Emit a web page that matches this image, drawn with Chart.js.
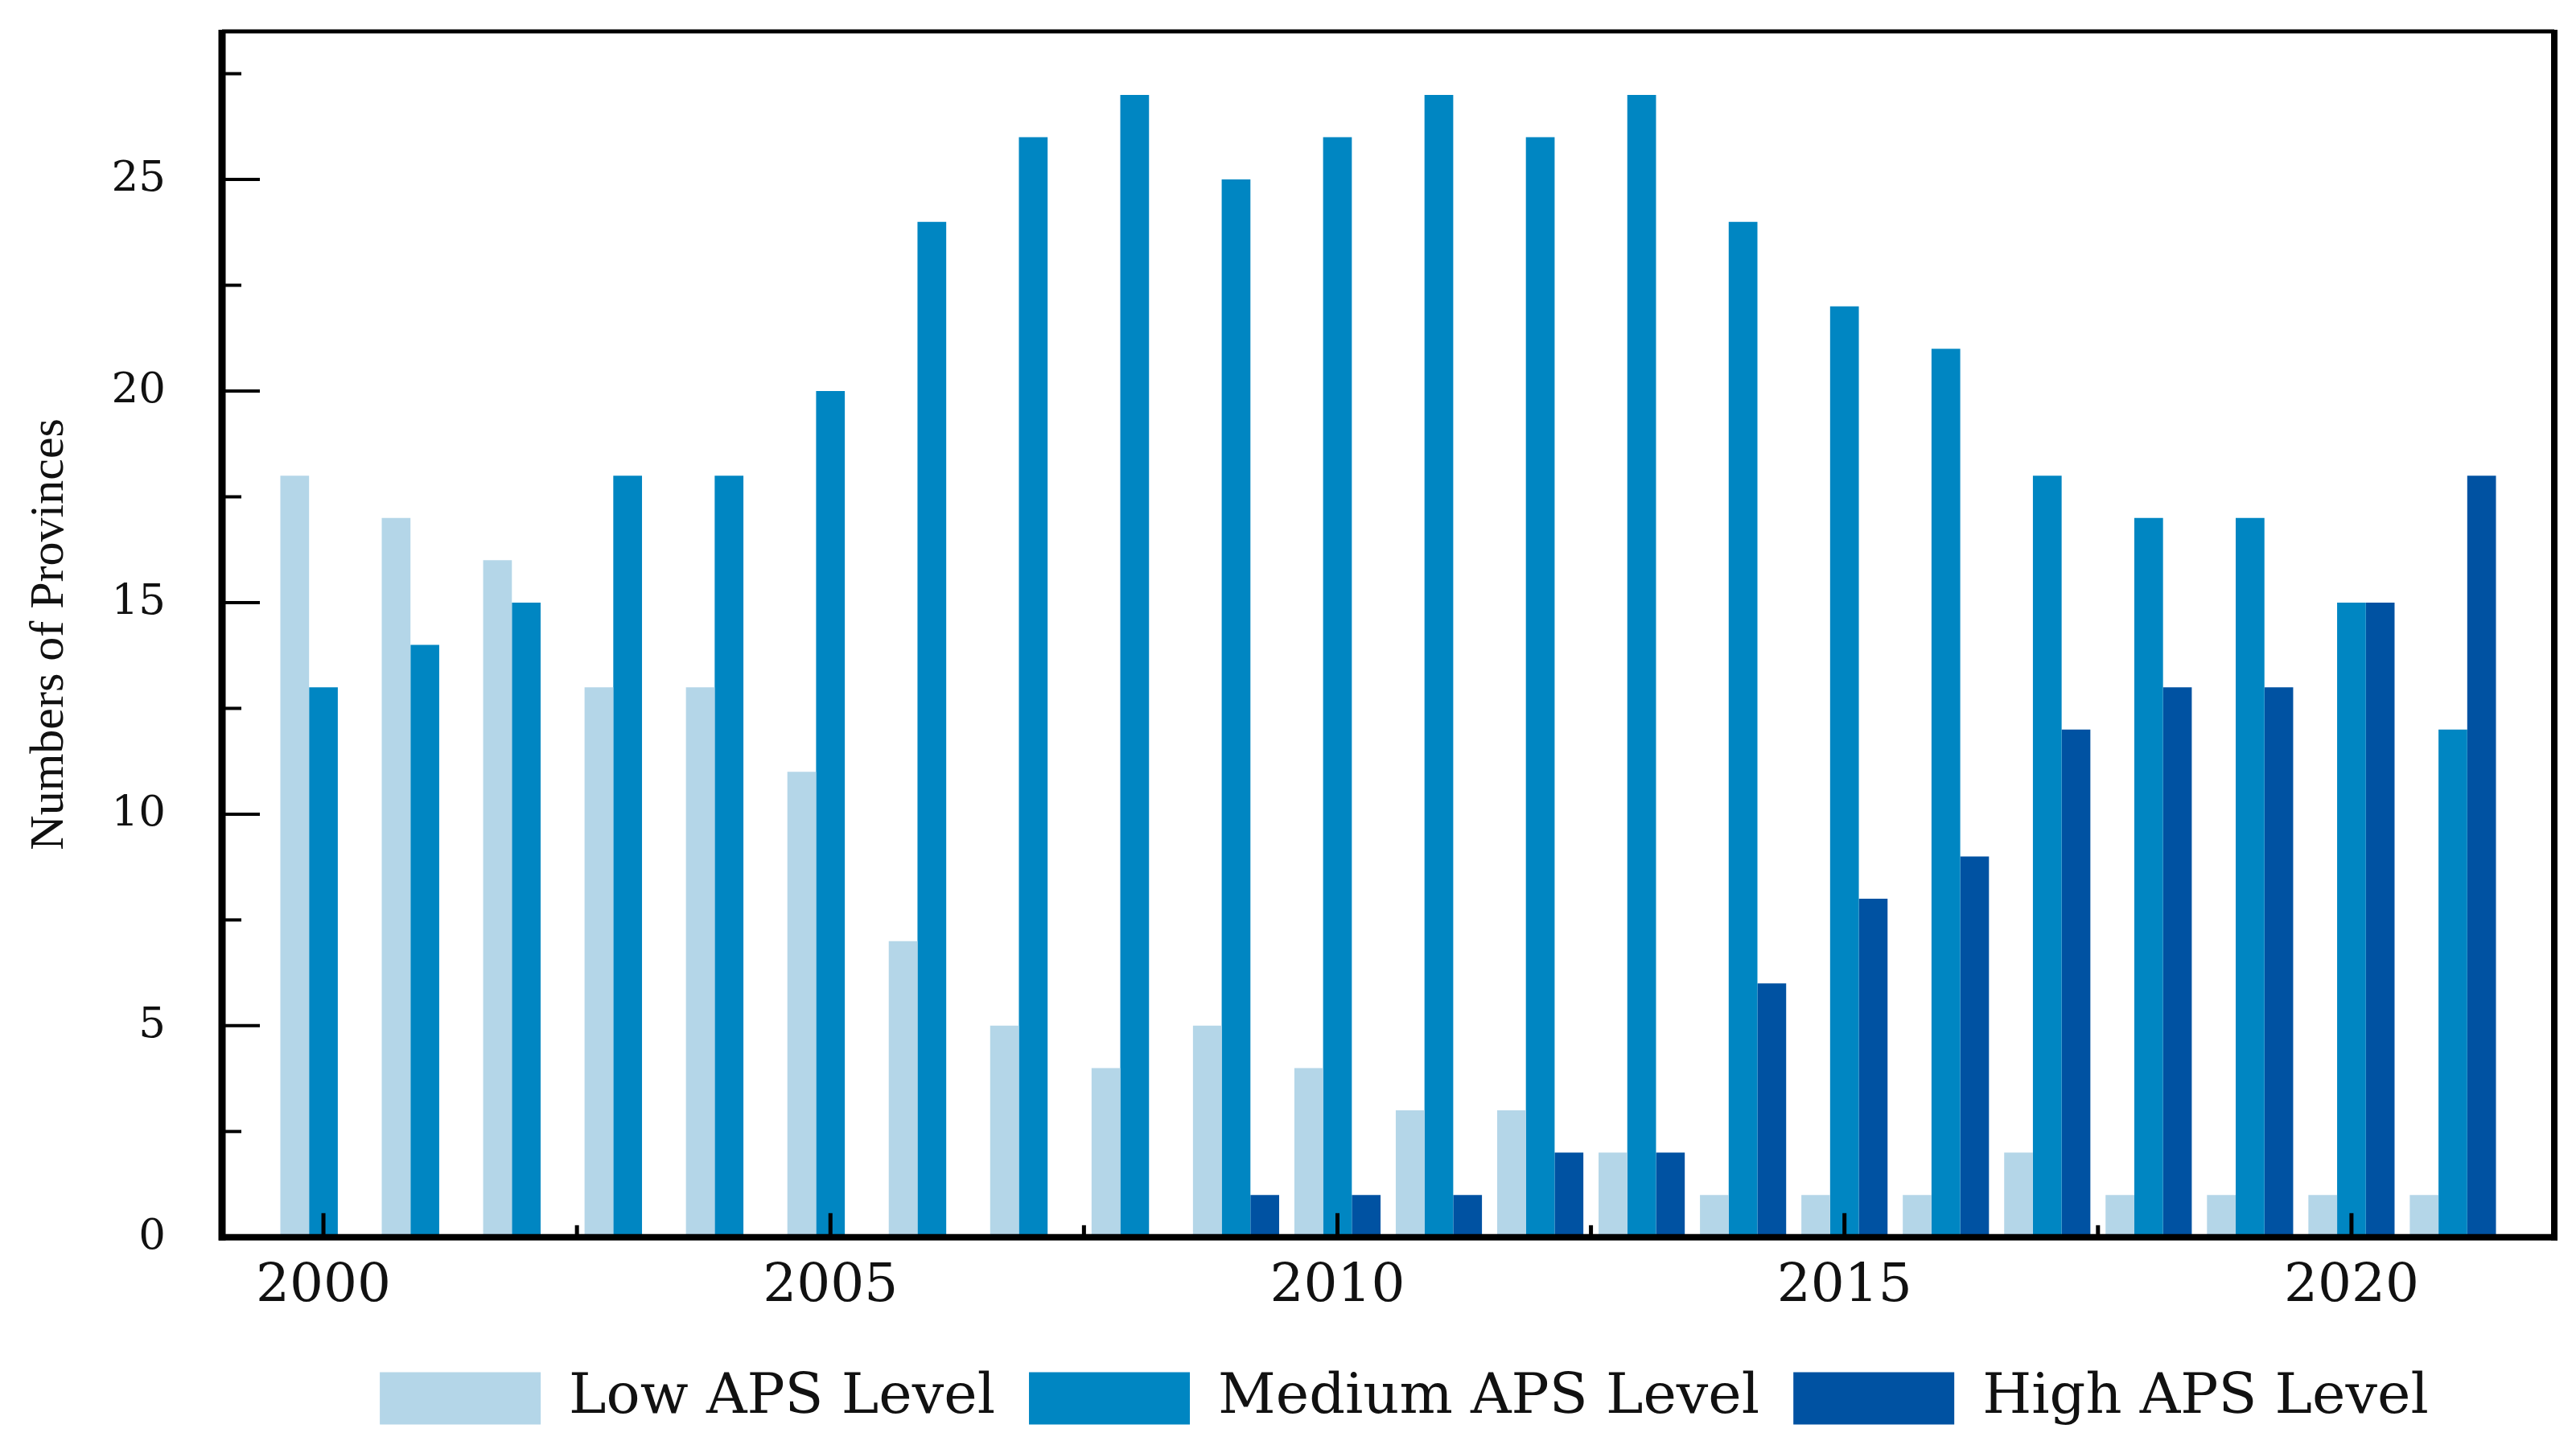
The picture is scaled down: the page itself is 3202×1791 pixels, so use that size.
<!DOCTYPE html>
<html>
<head>
<meta charset="utf-8">
<title>APS levels by year</title>
<script src="https://cdn.jsdelivr.net/npm/chart.js@4"></script>
<style>
  html, body { margin: 0; padding: 0; background: #fff; }
  #wrap { width: 3202px; height: 1791px; position: relative; }
</style>
</head>
<body>
<div id="wrap"><canvas id="chart"></canvas></div>
<script>
// ---------- Data ----------
const years  = [2000, 2001, 2002, 2003, 2004, 2005, 2006, 2007, 2008, 2009, 2010,
                2011, 2012, 2013, 2014, 2015, 2016, 2017, 2018, 2019, 2020, 2021];
const lowAPS    = [18, 17, 16, 13, 13, 11, 7, 5, 4, 5, 4, 3, 3, 2, 1, 1, 1, 2, 1, 1, 1, 1];
const mediumAPS = [13, 14, 15, 18, 18, 20, 24, 26, 27, 25, 26, 27, 26, 27, 24, 22, 21, 18, 17, 17, 15, 12];
const highAPS   = [0, 0, 0, 0, 0, 0, 0, 0, 0, 1, 1, 1, 2, 2, 6, 8, 9, 12, 13, 13, 15, 18];
const seriesNames = ['Low APS Level', 'Medium APS Level', 'High APS Level'];
const yLabelTicks = [0, 5, 10, 15, 20, 25];
const xLabelTicks = [2000, 2005, 2010, 2015, 2020];

const colors = ['#b4d6e8', '#0086c2', '#0052a2'];
const serifWide = 'DejaVu Serif';
const serif = 'Liberation Serif';

// inward tick marks + heavy frame, drawn over the bars like the original
const frameTicks = {
  id: 'frameTicks',
  afterDatasetsDraw(chart) {
    const {ctx, chartArea: a, scales: {x, y}} = chart;
    ctx.save();
    ctx.strokeStyle = '#000';
    ctx.lineCap = 'butt';

    ctx.lineWidth = 4;
    for (let v = 2.5; v < y.max; v += 2.5) {
      const py = y.getPixelForValue(v);
      const len = yLabelTicks.includes(v) ? 47 : 24;
      ctx.beginPath(); ctx.moveTo(a.left, py); ctx.lineTo(a.left + len, py); ctx.stroke();
    }
    ctx.lineWidth = 5;
    for (let v = 2000; v < x.max; v += 2.5) {
      const px = x.getPixelForValue(v);
      const len = xLabelTicks.includes(v) ? 30 : 15;
      ctx.beginPath(); ctx.moveTo(px, a.bottom); ctx.lineTo(px, a.bottom - len); ctx.stroke();
    }

    // frame
    ctx.lineWidth = 5;
    ctx.beginPath(); ctx.moveTo(a.left, a.top); ctx.lineTo(a.right, a.top); ctx.stroke();
    ctx.lineWidth = 8;
    ctx.beginPath(); ctx.moveTo(a.right, a.top - 2); ctx.lineTo(a.right, a.bottom + 4); ctx.stroke();
    ctx.beginPath(); ctx.moveTo(a.left - 4, a.bottom); ctx.lineTo(a.right + 4, a.bottom); ctx.stroke();
    ctx.lineWidth = 9;
    ctx.beginPath(); ctx.moveTo(a.left, a.top - 2); ctx.lineTo(a.left, a.bottom + 4); ctx.stroke();
    ctx.restore();
  }
};

// centre the legend under the plot area rather than the whole canvas
const legendUnderPlot = {
  id: 'legendUnderPlot',
  afterLayout(chart) {
    const lg = chart.legend, a = chart.chartArea;
    if (!lg) return;
    const d = (a.left + a.right) / 2 - (lg.left + lg.right) / 2 + 20;
    lg.left += d; lg.right += d;
  }
};

new Chart(document.getElementById('chart'), {
  type: 'bar',
  data: {
    labels: years,
    datasets: [
      { label: seriesNames[0], data: lowAPS,    backgroundColor: colors[0] },
      { label: seriesNames[1], data: mediumAPS, backgroundColor: colors[1] },
      { label: seriesNames[2], data: highAPS,   backgroundColor: colors[2] },
    ]
  },
  options: {
    responsive: true,
    maintainAspectRatio: false,
    devicePixelRatio: 1,
    animation: false,
    categoryPercentage: 0.85,
    barPercentage: 1.0,
    layout: { padding: { top: 39, right: 27, bottom: 8, left: 0 } },
    plugins: {
      tooltip: { enabled: false },
      legend: {
        position: 'bottom',
        labels: {
          boxWidth: 200, boxHeight: 65, padding: 42,
          color: '#111',
          font: { family: serifWide, size: 70 }
        }
      }
    },
    scales: {
      x: {
        type: 'linear',
        min: 1999, max: 2022,
        offset: false,
        grid: { display: false, drawTicks: false },
        border: { display: false },
        ticks: {
          stepSize: 2.5, includeBounds: false, autoSkip: false, maxRotation: 0, padding: 22,
          color: '#111',
          font: { family: serifWide, size: 66 },
          callback: v => xLabelTicks.includes(v) ? String(v) : ''
        },
        afterFit: s => { s.paddingLeft = 0; s.paddingRight = 0; }
      },
      y: {
        min: 0, max: 28.5,
        grid: { display: false, drawTicks: false },
        border: { display: false },
        ticks: {
          stepSize: 2.5, padding: 70,
          color: '#111',
          font: { family: serifWide, size: 53 },
          callback: v => yLabelTicks.includes(v) ? String(v) : ''
        },
        title: {
          display: true, text: 'Numbers of Provinces',
          color: '#111',
          font: { family: serif, size: 60 },
          padding: { top: 26, bottom: 0 }
        },
        afterFit: s => { s.width = 276; s.paddingTop = 0; s.paddingBottom = 0; }
      }
    }
  },
  plugins: [frameTicks, legendUnderPlot]
});
</script>
</body>
</html>
